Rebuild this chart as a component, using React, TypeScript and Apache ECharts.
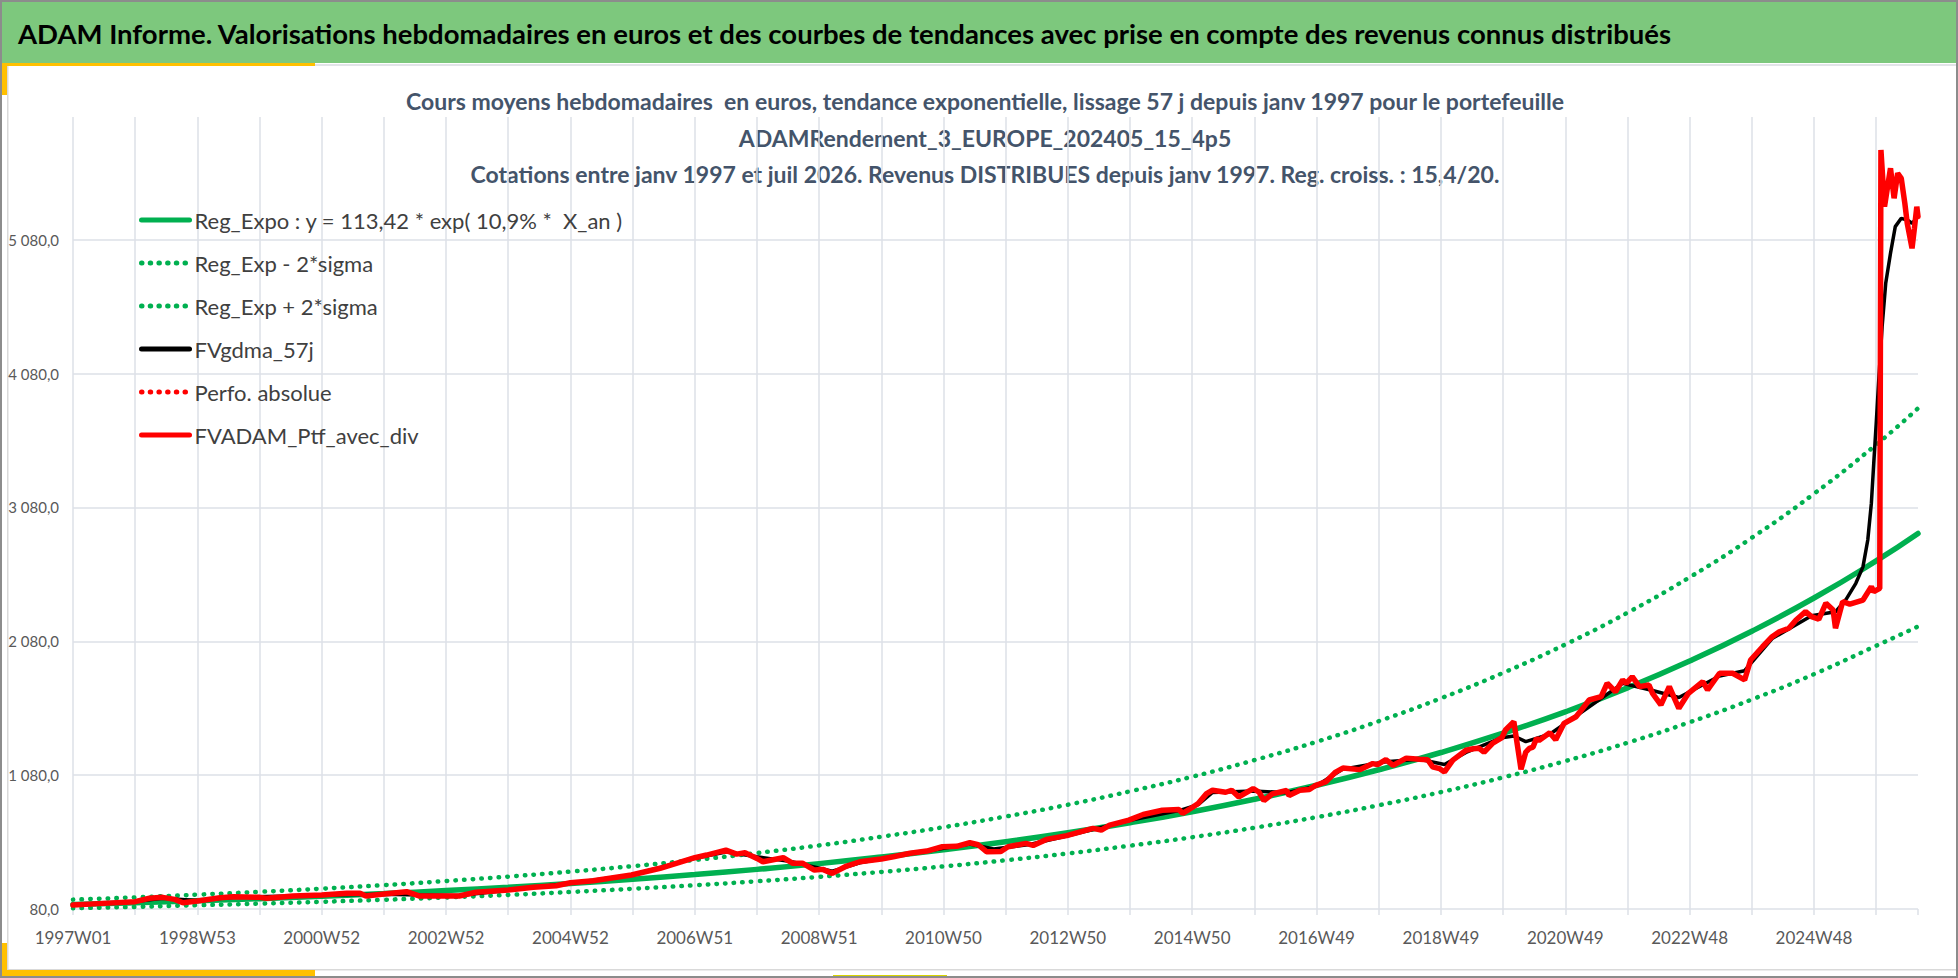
import React, { useEffect, useRef } from 'react';
import * as echarts from 'echarts';

// x axis: weekly index from 1997W01 (0) to 2026W31 (1543); labels every 104 weeks
const TICK_LABELS = [
  '1997W01', '1998W53', '2000W52', '2002W52', '2004W52', '2006W51', '2008W51', '2010W50',
  '2012W50', '2014W50', '2016W49', '2018W49', '2020W49', '2022W48', '2024W48',
];
const LAST_WEEK = 1543;

// trend curves, read once per year (week index 52*k) plus the last week
const TREND_WEEKS = [
  0, 52, 104, 156, 208, 260, 312, 364, 416, 468, 520, 572, 624, 676, 728, 780,
  832, 884, 936, 988, 1040, 1092, 1144, 1196, 1248, 1300, 1352, 1404, 1456, 1508, 1543,
];
const REG_EXPO = [
  113, 126, 141, 157, 175, 195, 218, 243, 271, 302, 337, 376, 419, 468, 522, 582,
  649, 724, 807, 900, 1004, 1120, 1249, 1393, 1553, 1732, 1932, 2155, 2403, 2680, 2885,
];
const REG_LOW = [
  86, 96, 108, 120, 134, 149, 166, 185, 207, 231, 257, 287, 320, 357, 398, 444,
  495, 553, 616, 687, 766, 855, 953, 1063, 1185, 1322, 1475, 1645, 1834, 2046, 2190,
];
const REG_HIGH = [
  150, 167, 187, 208, 232, 258, 289, 322, 359, 400, 446, 498, 555, 620, 691, 771,
  859, 959, 1068, 1192, 1329, 1483, 1654, 1844, 2056, 2293, 2558, 2853, 3182, 3548, 3820,
];

// [week index, value]
const FV_GDMA: [number, number][] = [
  [0, 110], [52, 135], [75, 160], [104, 143], [134, 168], [184, 177], [208, 184], [260, 190],
  [290, 184], [323, 180], [364, 220], [416, 272], [467, 334], [520, 458], [546, 505], [572, 470],
  [602, 432], [635, 362], [658, 425], [700, 492], [750, 565], [770, 528], [800, 562], [831, 625],
  [883, 740], [925, 815], [941, 860], [953, 950], [987, 962], [1015, 948], [1039, 995], [1062, 1125],
  [1098, 1180], [1126, 1198], [1147, 1160], [1165, 1250], [1195, 1360], [1205, 1372], [1215, 1330],
  [1235, 1385], [1260, 1540], [1296, 1765], [1321, 1712], [1343, 1660], [1377, 1820], [1398, 1860],
  [1421, 2100], [1454, 2270], [1474, 2300], [1483, 2395], [1491, 2513], [1497, 2637], [1501, 2836],
  [1504, 3111], [1506, 3410], [1508, 3700], [1510, 4007], [1513, 4430], [1516, 4754], [1520, 4978],
  [1524, 5177], [1529, 5239], [1534, 5227], [1538, 5202], [1543, 5252],
];

const FV_PTF: [number, number][] = [
  [0, 110], [25, 122], [52, 135], [64, 160], [75, 167], [85, 152], [92, 127], [104, 140],
  [123, 164], [134, 172], [156, 167], [162, 160], [184, 177], [208, 184], [229, 197], [240, 197],
  [245, 177], [260, 192], [279, 209], [290, 177], [312, 177], [323, 177], [337, 205], [364, 222],
  [385, 242], [404, 254], [416, 276], [435, 291], [467, 334], [491, 384], [520, 463], [530, 483],
  [546, 520], [555, 490], [562, 500], [572, 458], [577, 433], [594, 463], [602, 421], [610, 422],
  [620, 371], [627, 376], [635, 346], [647, 401], [658, 433], [676, 453], [686, 470], [700, 496],
  [714, 513], [727, 545], [739, 548], [750, 575], [757, 560], [764, 508], [776, 510], [782, 545],
  [797, 570], [803, 555], [814, 600], [831, 628], [853, 682], [860, 670], [867, 707], [883, 744],
  [895, 786], [911, 818], [925, 823], [928, 794], [936, 838], [941, 868], [948, 942], [953, 967],
  [964, 952], [969, 967], [975, 917], [987, 980], [992, 952], [996, 890], [1003, 940], [1015, 965],
  [1017, 928], [1026, 967], [1034, 972], [1039, 1002], [1048, 1032], [1056, 1103], [1062, 1133],
  [1076, 1121], [1087, 1166], [1091, 1158], [1098, 1195], [1104, 1153], [1115, 1207], [1126, 1198],
  [1133, 1195], [1137, 1142], [1143, 1128], [1147, 1104], [1154, 1192], [1165, 1266], [1171, 1277],
  [1176, 1280], [1180, 1251], [1187, 1316], [1195, 1360], [1198, 1417], [1205, 1480], [1211, 1124],
  [1215, 1252], [1218, 1280], [1221, 1289], [1224, 1355], [1226, 1339], [1235, 1396], [1240, 1344],
  [1247, 1467], [1257, 1516], [1260, 1549], [1268, 1641], [1278, 1666], [1283, 1766], [1290, 1703],
  [1296, 1791], [1299, 1766], [1304, 1815], [1310, 1741], [1318, 1753], [1321, 1691], [1328, 1604],
  [1335, 1741], [1343, 1579], [1351, 1691], [1363, 1778], [1367, 1716], [1377, 1841], [1388, 1841],
  [1398, 1791], [1403, 1940], [1413, 2039], [1421, 2114], [1427, 2151], [1435, 2177], [1441, 2239],
  [1449, 2301], [1454, 2264], [1460, 2244], [1466, 2364], [1472, 2314], [1474, 2177], [1480, 2376],
  [1486, 2358], [1497, 2388], [1504, 2488], [1506, 2450], [1511, 2475], [1512, 5750], [1515, 5326],
  [1518, 5500], [1520, 5613], [1523, 5389], [1526, 5576], [1529, 5538], [1532, 5351], [1534, 5202],
  [1538, 5015], [1540, 5165], [1542, 5326], [1543, 5252],
];

const HEADER = 'ADAM Informe. Valorisations hebdomadaires en euros et des courbes de tendances avec prise en compte des revenus connus distribués';
const TITLE_LINES = [
  'Cours moyens hebdomadaires  en euros, tendance exponentielle, lissage 57 j depuis janv 1997 pour le portefeuille',
  'ADAMRendement_3_EUROPE_202405_15_4p5',
  'Cotations entre janv 1997 et juil 2026. Revenus DISTRIBUES depuis janv 1997. Reg. croiss. : 15,4/20.',
];
const TITLE_Y = [101, 138, 174];

const GREEN = '#00B050';
const GRID = '#DDE0E7';
const FONT = 'Lato, "Noto Sans", sans-serif';
const DOTS = [0.5, 8.2];

const zip = (xs: number[], ys: number[]) => xs.map((x, i) => [x, ys[i]]);

const fmtY = (v: number) => {
  if ((v - 80) % 1000 !== 0) return '';
  const [int, dec] = v.toFixed(1).split('.');
  return int.replace(/\B(?=(\d{3})+(?!\d))/g, ' ') + ',' + dec;
};

const App: React.FC = () => {
  const chartRef = useRef<HTMLDivElement>(null);

  useEffect(() => {
    document.body.style.margin = '0';
    if (!chartRef.current) return;
    const chart = echarts.init(chartRef.current, undefined, { renderer: 'svg' });

    const line = (name: string, data: any[], color: string, width: number, type: any = 'solid', smooth = false) => ({
      name,
      type: 'line',
      data,
      symbol: 'none',
      smooth,
      silent: true,
      lineStyle: { color, width, type, cap: 'round' },
      itemStyle: { color },
    });

    chart.setOption({
      animation: false,
      backgroundColor: '#fff',
      graphic: [
        { type: 'rect', shape: { x: 0, y: 0, width: 1958, height: 63 }, style: { fill: '#7DC87D' } },
        {
          type: 'text', x: 18, y: 33,
          style: { text: HEADER, fill: '#000', fontFamily: FONT, fontWeight: 'bold', fontSize: 27.5, textVerticalAlign: 'middle' },
        },
        { type: 'rect', shape: { x: 7, y: 64, width: 1951, height: 2 }, style: { fill: '#E2E4E8' } },
        { type: 'rect', shape: { x: 0, y: 63, width: 315, height: 3 }, style: { fill: '#FFC000' } },
        { type: 'rect', shape: { x: 0, y: 63, width: 7, height: 32 }, style: { fill: '#FFC000' } },
        { type: 'rect', shape: { x: 7, y: 66, width: 1.5, height: 904 }, style: { fill: '#D9D9D9' } },
        { type: 'rect', shape: { x: 7, y: 969, width: 1951, height: 1.5 }, style: { fill: '#D9D9D9' } },
        { type: 'rect', shape: { x: 0, y: 970, width: 315, height: 8 }, style: { fill: '#FFC000' } },
        { type: 'rect', shape: { x: 0, y: 943, width: 7, height: 35 }, style: { fill: '#FFC000' } },
        { type: 'rect', shape: { x: 833, y: 975, width: 114, height: 3 }, style: { fill: '#D8D400' } },
        ...TITLE_LINES.map((t, i) => ({
          type: 'text', x: 985, y: TITLE_Y[i],
          style: {
            text: t, fill: '#44546A', fontFamily: FONT, fontWeight: 'bold', fontSize: 23,
            textAlign: 'center', textVerticalAlign: 'middle',
          },
        })),
        {
          type: 'rect', z: 100, shape: { x: 1, y: 1, width: 1956, height: 976 },
          style: { fill: 'none', stroke: '#8C8C8C', lineWidth: 2 },
        },
      ],
      grid: { left: 73, right: 40, top: 117, bottom: 69 },
      legend: {
        orient: 'vertical',
        left: 134,
        top: 204,
        itemWidth: 48,
        itemHeight: 14,
        itemGap: 21,
        selectedMode: false,
        itemStyle: { opacity: 0 },
        lineStyle: { width: 5 },
        textStyle: { color: '#404040', fontFamily: FONT, fontSize: 22 },
        data: ['Reg_Expo : y = 113,42 * exp( 10,9% *  X_an )', 'Reg_Exp - 2*sigma', 'Reg_Exp + 2*sigma',
          'FVgdma_57j', 'Perfo. absolue', 'FVADAM_Ptf_avec_div'],
      },
      xAxis: {
        type: 'value',
        min: 0,
        max: LAST_WEEK,
        interval: 52,
        axisLine: { show: false },
        axisTick: { show: true, length: 6, lineStyle: { color: GRID, width: 1.5 } },
        splitLine: { show: true, showMaxLine: false, lineStyle: { color: GRID, width: 1.5 } },
        axisLabel: {
          margin: 20,
          color: '#595959',
          fontFamily: FONT,
          fontSize: 17,
          formatter: (v: number) => (v % 104 === 0 ? TICK_LABELS[v / 104] ?? '' : ''),
        },
      },
      yAxis: {
        type: 'value',
        min: 80,
        max: 5996,
        interval: 1000,
        axisLine: { show: false },
        axisTick: { show: false },
        splitLine: { show: true, showMaxLine: false, lineStyle: { color: GRID, width: 1.5 } },
        axisLabel: { margin: 14, color: '#595959', fontFamily: FONT, fontSize: 15, formatter: fmtY },
      },
      series: [
        line('Reg_Expo : y = 113,42 * exp( 10,9% *  X_an )', zip(TREND_WEEKS, REG_EXPO), GREEN, 5.5, 'solid', true),
        line('Reg_Exp - 2*sigma', zip(TREND_WEEKS, REG_LOW), GREEN, 4.5, DOTS, true),
        line('Reg_Exp + 2*sigma', zip(TREND_WEEKS, REG_HIGH), GREEN, 4.5, DOTS, true),
        line('FVgdma_57j', FV_GDMA, '#000000', 3.5),
        line('Perfo. absolue', [], '#FF0000', 4.5, DOTS),
        line('FVADAM_Ptf_avec_div', FV_PTF, '#FF0000', 5.5),
      ],
    });

    return () => {
      chart.dispose();
    };
  }, []);

  return <div ref={chartRef} style={{ width: 1958, height: 978 }} />;
};

export default App;
